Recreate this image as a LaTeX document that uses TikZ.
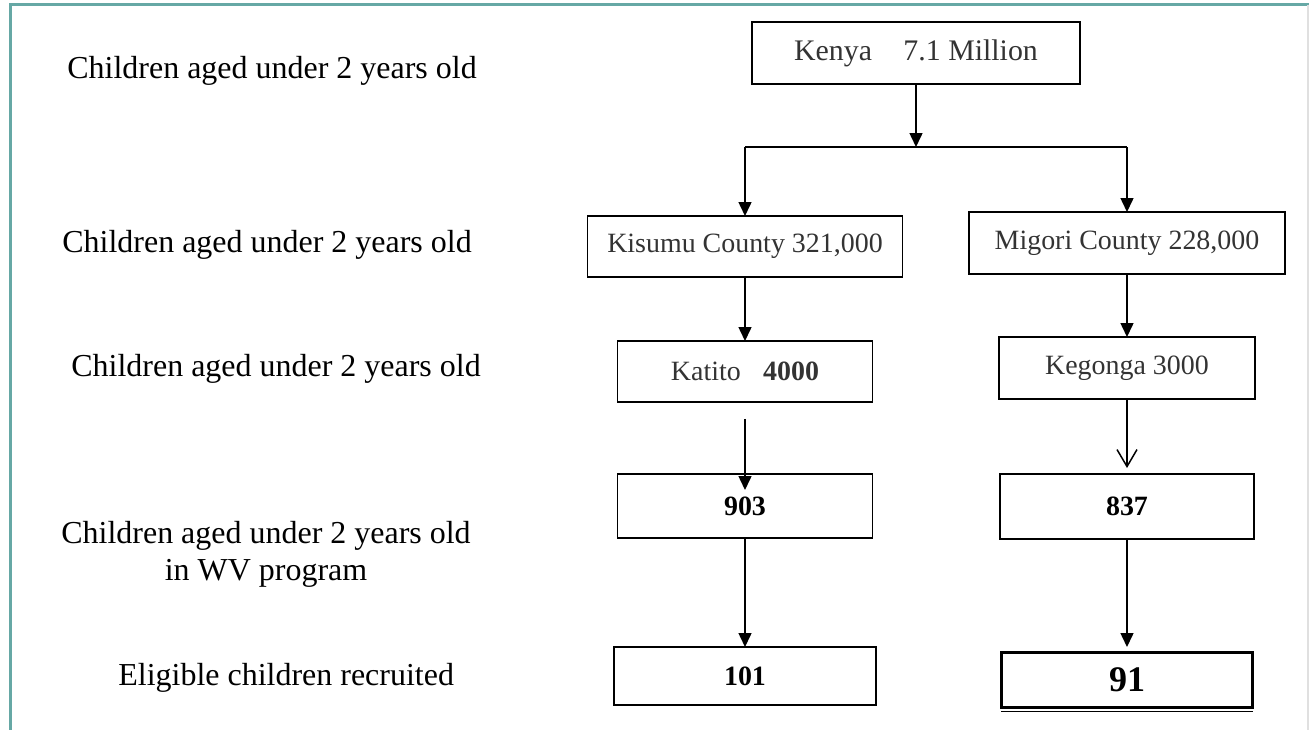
\documentclass[tikz,border=0pt]{standalone}
\usepackage{fontspec}
\setmainfont{Liberation Serif}
\usetikzlibrary{arrows.meta}
\definecolor{frameteal}{RGB}{102,168,165}
\tikzset{
  cbox/.style={draw, line width=0.03cm, inner sep=0pt, outer sep=0pt, text=black!80,
    font=\fontsize{15.9}{19}\selectfont},
  lbl/.style={inner sep=0pt, anchor=base west, font=\fontsize{18.2}{21}\selectfont},
  arr/.style={line width=0.03cm, -{Triangle[length=0.28cm,width=0.26cm]}},
  openarr/.style={line width=0.03cm, -{Straight Barb[length=0.34cm,width=0.4cm]}}
}
\begin{document}
\begin{tikzpicture}[x=0.02cm, y=-0.02cm]
        \useasboundingbox (0,0) rectangle (1309,730);
        \draw[frameteal, line width=0.06cm] (10.5,730) -- (10.5,4.5) -- (1309,4.5);
        \draw[black!12, line width=0.03cm] (1308,4.5) -- (1308,730);

        \node[lbl] (row1) at (67,78) {Children aged under 2 years old};
        \node[lbl] (row2) at (62,252) {Children aged under 2 years old};
        \node[lbl] (row3) at (71,376) {Children aged under 2 years old};
        \node[inner sep=0pt, align=center, font=\fontsize{18.2}{21.05}\selectfont] (row4) at (266,554)
          {Children aged under 2 years old\\in WV program};
        \node[lbl] (row5) at (118,685) {Eligible children recruited};

        \node[cbox, minimum width=6.56cm, minimum height=1.24cm, font=\fontsize{17}{20}\selectfont] (kenya) at (916,53)
          {Kenya\hspace{1.05em}7.1 Million};
        \node[cbox, minimum width=6.30cm, minimum height=1.22cm] (kisumu) at (745,246.5) {Kisumu County 321,000};
        \node[cbox, minimum width=6.32cm, minimum height=1.24cm] (migori) at (1127,243) {Migori County 228,000};
        \node[cbox, minimum width=5.10cm, minimum height=1.22cm] (katito) at (745,371.5) {Katito\hspace{0.8em}\textbf{4000}};
        \node[cbox, minimum width=5.12cm, minimum height=1.24cm] (kegonga) at (1127,368) {Kegonga 3000};
        \node[cbox, text=black, minimum width=5.10cm, minimum height=1.28cm] (n903) at (745,506) {\textbf{903}};
        \node[cbox, text=black, minimum width=5.08cm, minimum height=1.30cm] (n837) at (1127,506.5) {\textbf{837}};
        \node[cbox, text=black, minimum width=5.24cm, minimum height=1.16cm] (n101) at (745,676) {\textbf{101}};
        \node[cbox, text=black, line width=0.06cm, minimum width=5.04cm, minimum height=1.10cm,
          font=\fontsize{20.5}{24}\selectfont] (n91) at (1127,679.5) {\textbf{91}};
        \draw[line width=0.03cm] ([yshift=-0.09cm]n91.south west) -- ([yshift=-0.09cm]n91.south east);

        \coordinate (split) at (916,147);
        \coordinate (splitL) at (745,147);
        \coordinate (splitR) at (1127,147);
        \draw[arr] (kenya) -- (split);
        \draw[line width=0.03cm] (splitL) -- (splitR);
        \draw[arr] (splitL) -- (kisumu);
        \draw[arr] (splitR) -- (migori);
        \draw[arr] (kisumu) -- (katito);
        \draw[arr] (migori) -- (kegonga);
        \draw[arr, shorten <=0.34cm, shorten >=-0.32cm] (katito) -- (n903);
        \draw[openarr, shorten >=0.12cm] (kegonga) -- (n837);
        \draw[arr] (n903) -- (n101);
        \draw[arr, shorten >=0.1cm] (n837) -- (n91);
    \end{tikzpicture}
\end{document}
